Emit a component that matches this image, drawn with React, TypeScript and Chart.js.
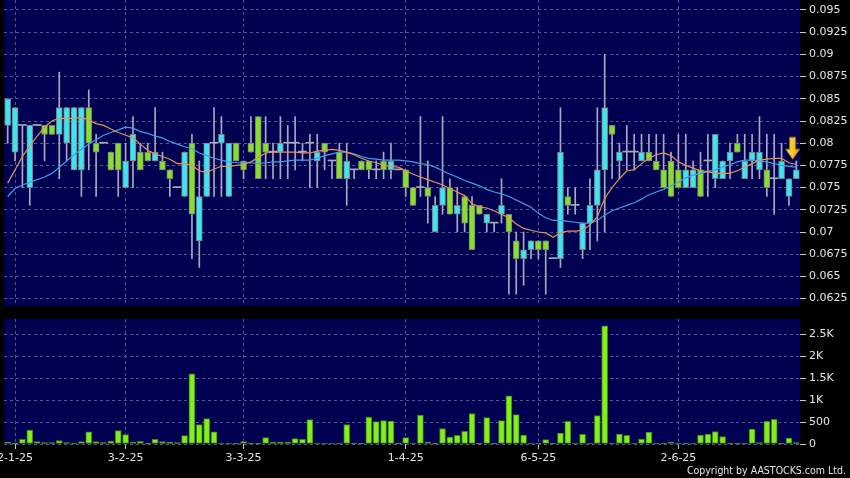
import React, { useEffect, useRef } from "react";
import { Chart, registerables } from "chart.js";

Chart.register(...registerables);

// ---- Candles (daily, HKD) ----
const opens = [
  0.082, 0.079, 0.082, 0.075, 0.082, 0.082, 0.082, 0.081, 0.080, 0.077,
  0.077, 0.084, 0.080, 0.080, 0.079, 0.080, 0.075, 0.078, 0.079, 0.079,
  0.078, 0.078, 0.077, 0.075, 0.074, 0.080, 0.069, 0.074, 0.080, 0.080,
  0.074, 0.080, 0.078, 0.080, 0.083, 0.080, 0.079, 0.079, 0.080, 0.080,
  0.079, 0.080, 0.078, 0.080, 0.078, 0.079, 0.076, 0.077, 0.078, 0.078,
  0.077, 0.078, 0.077, 0.077, 0.077, 0.075, 0.075, 0.075, 0.070, 0.073,
  0.075, 0.072, 0.074, 0.073, 0.073, 0.071, 0.071, 0.072, 0.072, 0.069,
  0.067, 0.068, 0.069, 0.069, 0.067, 0.067, 0.074, 0.073, 0.068, 0.071,
  0.073, 0.077, 0.082, 0.078, 0.079, 0.079, 0.078, 0.079, 0.078, 0.077,
  0.078, 0.077, 0.075, 0.075, 0.077, 0.078, 0.076, 0.076, 0.078, 0.080,
  0.076, 0.078, 0.077, 0.077, 0.076, 0.076, 0.074, 0.076,
];
const highs = [
  0.085, 0.084, 0.082, 0.082, 0.082, 0.082, 0.082, 0.088, 0.084, 0.084,
  0.084, 0.086, 0.081, 0.080, 0.079, 0.080, 0.080, 0.083, 0.080, 0.080,
  0.084, 0.079, 0.077, 0.075, 0.079, 0.081, 0.078, 0.080, 0.084, 0.083,
  0.080, 0.080, 0.078, 0.083, 0.083, 0.083, 0.080, 0.083, 0.082, 0.083,
  0.080, 0.081, 0.081, 0.080, 0.078, 0.080, 0.080, 0.077, 0.078, 0.078,
  0.078, 0.079, 0.080, 0.077, 0.077, 0.075, 0.083, 0.078, 0.074, 0.083,
  0.076, 0.075, 0.074, 0.074, 0.073, 0.072, 0.071, 0.076, 0.072, 0.070,
  0.070, 0.069, 0.069, 0.069, 0.067, 0.084, 0.075, 0.075, 0.071, 0.076,
  0.084, 0.090, 0.082, 0.080, 0.082, 0.081, 0.081, 0.081, 0.081, 0.081,
  0.079, 0.081, 0.081, 0.078, 0.079, 0.081, 0.081, 0.078, 0.080, 0.081,
  0.081, 0.081, 0.083, 0.081, 0.081, 0.080, 0.076, 0.078,
];
const lows = [
  0.080, 0.078, 0.075, 0.073, 0.082, 0.078, 0.081, 0.076, 0.078, 0.077,
  0.074, 0.077, 0.074, 0.080, 0.077, 0.074, 0.075, 0.075, 0.077, 0.078,
  0.078, 0.077, 0.074, 0.075, 0.074, 0.067, 0.066, 0.074, 0.074, 0.074,
  0.074, 0.078, 0.076, 0.079, 0.076, 0.076, 0.076, 0.076, 0.076, 0.077,
  0.078, 0.075, 0.075, 0.077, 0.076, 0.076, 0.073, 0.076, 0.077, 0.076,
  0.076, 0.076, 0.076, 0.077, 0.074, 0.073, 0.074, 0.071, 0.070, 0.072,
  0.072, 0.070, 0.070, 0.068, 0.072, 0.070, 0.070, 0.071, 0.063, 0.063,
  0.064, 0.067, 0.067, 0.063, 0.067, 0.066, 0.072, 0.072, 0.067, 0.068,
  0.069, 0.070, 0.076, 0.076, 0.077, 0.077, 0.078, 0.078, 0.077, 0.075,
  0.074, 0.075, 0.075, 0.075, 0.074, 0.074, 0.075, 0.076, 0.076, 0.079,
  0.076, 0.076, 0.076, 0.074, 0.072, 0.076, 0.073, 0.076,
];
const closes = [
  0.085, 0.084, 0.082, 0.082, 0.082, 0.081, 0.081, 0.084, 0.084, 0.084,
  0.084, 0.080, 0.079, 0.080, 0.077, 0.077, 0.078, 0.081, 0.077, 0.078,
  0.079, 0.077, 0.076, 0.075, 0.079, 0.072, 0.074, 0.080, 0.080, 0.081,
  0.080, 0.078, 0.077, 0.079, 0.076, 0.079, 0.079, 0.080, 0.080, 0.080,
  0.079, 0.080, 0.079, 0.079, 0.078, 0.076, 0.078, 0.077, 0.077, 0.077,
  0.077, 0.077, 0.078, 0.077, 0.075, 0.073, 0.075, 0.074, 0.073, 0.075,
  0.072, 0.073, 0.071, 0.068, 0.072, 0.072, 0.071, 0.073, 0.070, 0.067,
  0.068, 0.069, 0.068, 0.068, 0.067, 0.079, 0.073, 0.073, 0.071, 0.073,
  0.077, 0.084, 0.081, 0.079, 0.079, 0.079, 0.079, 0.078, 0.077, 0.075,
  0.074, 0.075, 0.077, 0.077, 0.074, 0.078, 0.081, 0.078, 0.079, 0.079,
  0.078, 0.079, 0.079, 0.075, 0.076, 0.078, 0.076, 0.077,
];

// ---- Moving averages ----
const ma10 = [
  0.0755, 0.0770, 0.0785, 0.0797, 0.0808, 0.0818, 0.0825, 0.0828, 0.0828, 0.0828,
  0.0829, 0.0826, 0.0822, 0.0820, 0.0816, 0.0812, 0.0809, 0.0806, 0.0799, 0.0792,
  0.0788, 0.0785, 0.0782, 0.0777, 0.0777, 0.0775, 0.0769, 0.0767, 0.0771, 0.0774,
  0.0774, 0.0775, 0.0776, 0.0779, 0.0784, 0.0789, 0.0790, 0.0790, 0.0790, 0.0790,
  0.0789, 0.0789, 0.0791, 0.0792, 0.0793, 0.0792, 0.0790, 0.0787, 0.0783, 0.0780,
  0.0778, 0.0775, 0.0774, 0.0773, 0.0769, 0.0765, 0.0762, 0.0759, 0.0756, 0.0753,
  0.0749, 0.0745, 0.0741, 0.0732, 0.0728, 0.0727, 0.0724, 0.0720, 0.0716, 0.0709,
  0.0704, 0.0702, 0.0700, 0.0699, 0.0694, 0.0699, 0.0701, 0.0701, 0.0702, 0.0708,
  0.0717, 0.0738, 0.0750, 0.0760, 0.0769, 0.0770, 0.0777, 0.0783, 0.0787, 0.0789,
  0.0786, 0.0779, 0.0775, 0.0772, 0.0769, 0.0768, 0.0766, 0.0766, 0.0766, 0.0769,
  0.0773, 0.0777, 0.0781, 0.0782, 0.0783, 0.0783, 0.0778, 0.0776,
];
const ma20 = [
  0.0740, 0.0749, 0.0753, 0.0756, 0.0759, 0.0762, 0.0766, 0.0773, 0.0780, 0.0787,
  0.0793, 0.0799, 0.0804, 0.0809, 0.0812, 0.0815, 0.0818, 0.0817, 0.0813, 0.0811,
  0.0808, 0.0806, 0.0802, 0.0799, 0.0796, 0.0794, 0.0789, 0.0786, 0.0783, 0.0781,
  0.0779, 0.0778, 0.0778, 0.0778, 0.0777, 0.0778, 0.0779, 0.0779, 0.0780, 0.0781,
  0.0781, 0.0781, 0.0783, 0.0786, 0.0788, 0.0790, 0.0790, 0.0788, 0.0785, 0.0783,
  0.0782, 0.0781, 0.0781, 0.0781, 0.0780, 0.0779, 0.0777, 0.0776, 0.0773, 0.0769,
  0.0765, 0.0762, 0.0758, 0.0755, 0.0752, 0.0748, 0.0745, 0.0743, 0.0740, 0.0736,
  0.0732, 0.0728, 0.0721, 0.0716, 0.0713, 0.0713, 0.0712, 0.0711, 0.0710, 0.0710,
  0.0713, 0.0719, 0.0724, 0.0727, 0.0730, 0.0733, 0.0737, 0.0742, 0.0745, 0.0748,
  0.0752, 0.0756, 0.0761, 0.0764, 0.0766, 0.0768, 0.0770, 0.0773, 0.0776, 0.0779,
  0.0781, 0.0781, 0.0780, 0.0779, 0.0777, 0.0775, 0.0774, 0.0773,
];

// ---- Volume ----
const volumes = [
  45, 15, 107, 320, 53, 30, 30, 76, 30, 8,
  53, 280, 53, 30, 68, 304, 213, 46, 61, 8,
  107, 53, 38, 30, 190, 1600, 440, 580, 280, 23,
  23, 15, 53, 15, 8, 145, 38, 38, 38, 122,
  107, 555, 23, 23, 23, 23, 440, 8, 15, 616,
  510, 533, 525, 8, 145, 23, 662, 46, 15, 350,
  160, 198, 289, 692, 15, 601, 15, 533, 1096, 670,
  205, 23, 23, 99, 15, 251, 518, 23, 221, 23,
  647, 2694, 23, 228, 198, 23, 114, 274, 23, 8,
  46, 23, 23, 23, 205, 228, 282, 167, 15, 8,
  23, 342, 30, 518, 563, 15, 137, 30,
];

// ---- Axis labels ----
const dateTickIndex = [1, 16, 32, 54, 72, 91];
const dateTickText = ["2-1-25", "3-2-25", "3-3-25", "1-4-25", "6-5-25", "2-6-25"];
const priceTicks = [0.0625, 0.065, 0.0675, 0.07, 0.0725, 0.075, 0.0775, 0.08, 0.0825, 0.085, 0.0875, 0.09, 0.0925, 0.095];
const volumeTicks = [0, 500, 1000, 1500, 2000, 2500];
const priceMin = 0.061667;
const priceMax = 0.096126;
const volumeMax = 2850;
const arrowIndex = 106.5;
const arrowPrice = 0.0782;

const NAVY = "#000052";
const GRID = "#55558c";
const CYAN = "#3ee4f0";
const GREEN = "#86e02a";
const WICK = "#a9a9bb";
const TEXT = "#e4e4e4";
const FONT = { family: "'DejaVu Sans', sans-serif", size: 11 };

const labels = opens.map((_, i) => {
  const k = dateTickIndex.indexOf(i);
  return k >= 0 ? dateTickText[k] : "";
});

const plotBg = {
  id: "plotBg",
  beforeDraw(chart: any) {
    const { ctx, chartArea, width, height } = chart;
    ctx.save();
    ctx.fillStyle = "#000";
    ctx.fillRect(0, 0, width, height);
    ctx.fillStyle = NAVY;
    ctx.fillRect(chartArea.left, chartArea.top, chartArea.right - chartArea.left, chartArea.bottom - chartArea.top);
    ctx.restore();
  },
};

const arrowPlugin = {
  id: "arrowMark",
  afterDatasetsDraw(chart: any) {
    const ctx = chart.ctx;
    const x = chart.scales.x.getPixelForValue(arrowIndex);
    const tip = chart.scales.y.getPixelForValue(arrowPrice);
    ctx.save();
    const g = ctx.createLinearGradient(x - 7, 0, x + 7, 0);
    g.addColorStop(0, "#ffe46a");
    g.addColorStop(1, "#e8a800");
    ctx.beginPath();
    ctx.moveTo(x - 3, tip - 22);
    ctx.lineTo(x + 3, tip - 22);
    ctx.lineTo(x + 3, tip - 10);
    ctx.lineTo(x + 7, tip - 10);
    ctx.lineTo(x, tip);
    ctx.lineTo(x - 7, tip - 10);
    ctx.lineTo(x - 3, tip - 10);
    ctx.closePath();
    ctx.fillStyle = g;
    ctx.fill();
    ctx.strokeStyle = "#9a6e00";
    ctx.lineWidth = 1;
    ctx.stroke();
    ctx.restore();
  },
};

const xAfterBuild = (scale: any) => {
  scale.ticks = dateTickIndex.map((v) => ({ value: v }));
};

export default function App() {
  const mainRef = useRef<HTMLCanvasElement>(null);
  const volRef = useRef<HTMLCanvasElement>(null);

  useEffect(() => {
    const wickData = highs.map((h, i) => [lows[i], h]);
    const bodyData = opens.map((o, i) => (o !== closes[i] ? [o, closes[i]] : null));
    const dojiData = opens.map((o, i) => (o === closes[i] ? [o, o] : null));

    const main = new Chart(mainRef.current as HTMLCanvasElement, {
      type: "bar",
      data: {
        labels,
        datasets: [
          {
            type: "line",
            label: "MA10",
            data: ma10,
            borderColor: "#e88f5a",
            borderWidth: 1.2,
            pointRadius: 0,
            order: 0,
          } as any,
          {
            type: "line",
            label: "MA20",
            data: ma20,
            borderColor: "#3c9fe6",
            borderWidth: 1.2,
            pointRadius: 0,
            order: 0,
          } as any,
          {
            label: "body",
            data: bodyData as any,
            grouped: false,
            barThickness: 6,
            borderWidth: 1,
            borderColor: "#7c7c7c",
            borderSkipped: false,
            backgroundColor: (c: any) => (closes[c.dataIndex] > opens[c.dataIndex] ? CYAN : GREEN),
            order: 2,
          } as any,
          {
            label: "doji",
            data: dojiData as any,
            grouped: false,
            barThickness: 8,
            minBarLength: 1,
            borderWidth: 0,
            backgroundColor: WICK,
            order: 2,
          } as any,
          {
            label: "wick",
            data: wickData as any,
            grouped: false,
            barThickness: 1,
            borderWidth: 0,
            backgroundColor: WICK,
            order: 3,
          } as any,
        ],
      },
      options: {
        animation: false,
        responsive: false,
        devicePixelRatio: 1,
        layout: { padding: { left: 4, top: 0, right: 0, bottom: 4 } },
        plugins: { legend: { display: false }, tooltip: { enabled: false } },
        scales: {
          x: {
            offset: true,
            afterBuildTicks: xAfterBuild,
            afterFit: (s: any) => {
              s.height = 0;
              s.paddingLeft = 0;
              s.paddingRight = 0;
            },
            ticks: { display: false, autoSkip: false },
            grid: { offset: false, color: GRID, drawTicks: false, lineWidth: 1 },
            border: { display: false, dash: [3, 3] },
          },
          y: {
            position: "right",
            min: priceMin,
            max: priceMax,
            afterBuildTicks: (s: any) => {
              s.ticks = priceTicks.map((v) => ({ value: v }));
            },
            afterFit: (s: any) => {
              s.width = 50;
              s.paddingTop = 0;
              s.paddingBottom = 0;
            },
            ticks: {
              color: TEXT,
              font: FONT,
              padding: 3,
              callback: (v: any) => String(Number(Number(v).toFixed(4))),
            },
            grid: { color: GRID, tickColor: "#c8c8c8", tickLength: 6, drawTicks: true },
            border: { display: false, dash: [3, 3] },
          },
        },
      },
      plugins: [plotBg, arrowPlugin],
    });

    const vol = new Chart(volRef.current as HTMLCanvasElement, {
      type: "bar",
      data: {
        labels,
        datasets: [
          {
            label: "Volume",
            data: volumes,
            barThickness: 6,
            borderWidth: 1,
            borderColor: "#3f8010",
            borderSkipped: false,
            backgroundColor: "#80f01c",
          },
        ],
      },
      options: {
        animation: false,
        responsive: false,
        devicePixelRatio: 1,
        layout: { padding: { left: 4, top: 9, right: 0, bottom: 0 } },
        plugins: { legend: { display: false }, tooltip: { enabled: false } },
        scales: {
          x: {
            offset: true,
            afterBuildTicks: xAfterBuild,
            afterFit: (s: any) => {
              s.height = 34;
              s.paddingLeft = 0;
              s.paddingRight = 0;
            },
            ticks: { color: TEXT, font: FONT, autoSkip: false, maxRotation: 0, padding: 3 },
            grid: { offset: false, color: GRID, tickColor: "#c8c8c8", tickLength: 5 },
            border: { display: false, dash: [3, 3] },
          },
          y: {
            position: "right",
            min: 0,
            max: volumeMax,
            afterBuildTicks: (s: any) => {
              s.ticks = volumeTicks.map((v) => ({ value: v }));
            },
            afterFit: (s: any) => {
              s.width = 50;
              s.paddingTop = 0;
              s.paddingBottom = 0;
            },
            ticks: {
              color: TEXT,
              font: FONT,
              padding: 3,
              callback: (v: any) => {
                const n = Number(v);
                return n >= 1000 ? n / 1000 + "K" : String(n);
              },
            },
            grid: { color: GRID, tickColor: "#c8c8c8", tickLength: 6 },
            border: { display: false, dash: [3, 3] },
          },
        },
      },
      plugins: [plotBg],
    });

    return () => {
      main.destroy();
      vol.destroy();
    };
  }, []);

  return (
    <div
      style={{
        position: "absolute",
        left: 0,
        top: 0,
        width: 850,
        height: 478,
        background: "#000",
        overflow: "hidden",
      }}
    >
      <canvas
        ref={mainRef}
        width={850}
        height={310}
        style={{ position: "absolute", left: 0, top: 0, width: 850, height: 310 }}
      />
      <canvas
        ref={volRef}
        width={850}
        height={168}
        style={{ position: "absolute", left: 0, top: 310, width: 850, height: 168 }}
      />
      <div
        style={{
          position: "absolute",
          right: 4,
          top: 464,
          color: TEXT,
          font: "10.5px 'DejaVu Sans Condensed', 'DejaVu Sans', sans-serif",
          fontStretch: "condensed",
          whiteSpace: "nowrap",
          lineHeight: "12px",
        }}
      >
        Copyright by AASTOCKS.com Ltd.
      </div>
    </div>
  );
}
